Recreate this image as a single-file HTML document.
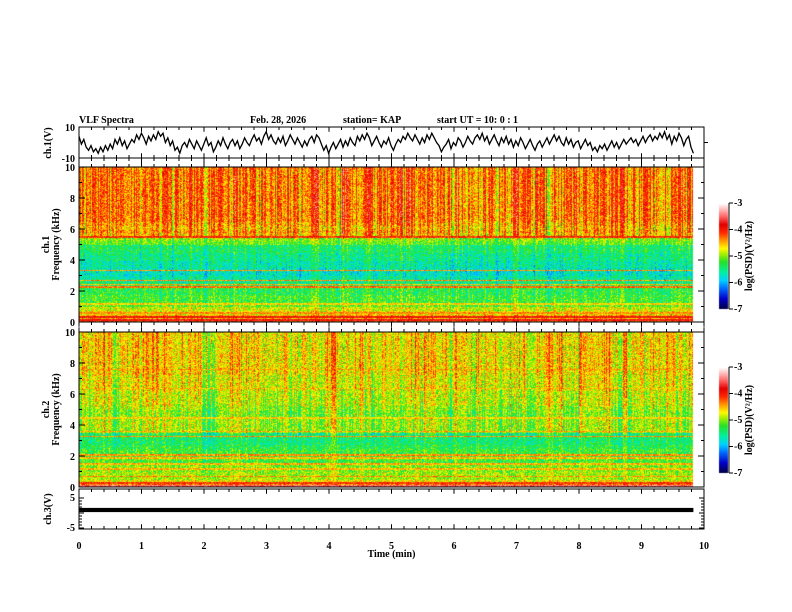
<!DOCTYPE html>
<html><head><meta charset="utf-8">
<style>
html,body{margin:0;padding:0;background:#fff;}
#wrap{position:relative;width:792px;height:612px;overflow:hidden;background:#fff;}
canvas,svg{position:absolute;left:0;top:0;}
text{font-family:"Liberation Serif",serif;font-weight:bold;font-size:10px;fill:#000;}
</style></head>
<body>
<div id="wrap">
<canvas id="cv" width="792" height="612"></canvas>
<svg id="sv" width="792" height="612" xmlns="http://www.w3.org/2000/svg"></svg>
</div>
<script>
// ---- data arrays ----
const timeTicks = [0,1,2,3,4,5,6,7,8,9,10];
const freqTicks = [0,2,4,6,8,10];
const cbarTicks = [-3,-4,-5,-6,-7];
const dataEndMin = 9.83;
// ch1 waveform (V), sampled uniformly over 0..dataEndMin
const ch1Wave = [4,-1,2,-3,-5,-2,-6,-4,-7,-3,-6,-2,-5,-1,-4,2,-1,3,-2,1,-4,-1,2,0,5,2,6,3,-1,4,1,5,2,7,4,6,0,3,-2,1,-5,-3,-7,-2,0,-3,2,-1,-4,1,-2,-5,-1,3,-2,0,-6,-3,1,-2,3,-1,-4,0,2,-2,1,-4,-1,3,0,-2,2,5,1,3,-1,4,7,2,5,1,-1,3,0,4,-2,1,5,2,-1,3,0,-3,1,-2,2,4,0,5,3,-1,-5,-2,-7,-3,0,-4,-1,2,-3,1,-2,3,0,-2,4,1,5,2,6,3,-2,1,4,0,-3,1,-1,3,-2,-5,-1,2,0,4,2,6,3,1,5,2,-1,3,0,5,2,6,3,0,-2,-6,-3,-1,2,-4,0,-2,3,1,-3,0,4,1,-1,3,5,2,6,1,4,-1,2,5,1,-2,3,0,4,-1,2,-3,1,-2,3,0,-4,-1,2,-2,-5,-1,1,-3,0,3,-1,2,5,1,4,0,-2,3,-1,2,-3,0,1,-4,-1,2,-2,0,-5,-3,-6,-2,-4,-1,-5,-2,1,-3,0,-4,-1,2,-1,1,3,0,2,-2,1,4,0,3,5,1,4,2,6,3,7,2,5,-1,4,1,6,3,-2,2,4,-3,-7];
// ch3 signal band (V)
const ch3Min = [0.3];
const ch3Max = [1.7];
// spectrogram background level per 0.25 kHz band (log PSD), 0..10 kHz
const ch1Profile = [-4.3,-4.5,-4.7,-4.8,-5.1,-5.2,-5.2,-5.3,-5.3,-5.4,-5.5,-5.6,-5.7,-5.7,-5.6,-5.6,-5.5,-5.5,-5.4,-5.4,-5.1,-5.0,-4.5,-4.4,-4.5,-4.4,-4.3,-4.3,-4.3,-4.3,-4.3,-4.3,-4.3,-4.3,-4.3,-4.3,-4.3,-4.3,-4.3,-4.3];
const ch2Profile = [-4.3,-4.7,-4.9,-4.9,-5.0,-5.0,-5.2,-5.1,-5.2,-5.2,-5.3,-5.4,-5.4,-5.4,-4.9,-4.9,-4.9,-4.9,-5.0,-5.0,-4.9,-4.8,-4.8,-4.8,-4.8,-4.7,-4.7,-4.7,-4.7,-4.6,-4.6,-4.6,-4.6,-4.6,-4.6,-4.6,-4.6,-4.6,-4.6,-4.6];
// narrow spectral lines: frequency (kHz) and level
const ch1LineF = [0.15,0.35,0.6,1.2,2.3,2.45,2.7,3.35,5.5];
const ch1LineV = [-3.8,-3.9,-4.4,-4.6,-4.3,-4.5,-4.4,-4.4,-4.1];
const ch2LineF = [0.1,0.3,0.7,1.2,1.5,1.9,2.1,3.3,3.6,4.5,6.4,7.6];
const ch2LineV = [-3.5,-4.1,-4.4,-4.5,-4.5,-4.5,-4.4,-4.4,-4.5,-4.6,-4.6,-4.5];
// temporal activity (impulsive noise) per time segment
const ch1Activity = [0.4,0.1,0.5,0.2,0.6,0.0,0.3,0.5,0.2,0.7,0.4,0.1,0.6,0.3,0.5,0.2,0.4,0.6,0.1,0.5,0.3,0.7,0.2,0.4,0.5,0.3,0.6,0.2,0.4,0.3,0.5,0.6,0.2,0.4,0.3,0.5,0.1,0.4,0.6,0.3,0.5,0.2,0.4,0.3,0.6,0.2,0.5,0.4,0.3,0.5];
const ch2Activity = [0.3,0.2,0.4,0.3,0.2,0.5,0.3,0.2,0.4,0.3,0.5,0.2,0.3,0.6,0.4,0.2,0.5,0.3,0.4,0.2,0.5,0.3,0.4,0.6,0.3,0.2,0.4,0.5,0.3,0.2,0.4,0.3,0.5,0.2,0.4,0.6,0.3,0.2,0.5,0.3,0.4,0.2,0.3,0.5,0.4,0.2,0.6,0.3,0.2,0.4];

// ---- layout ----
const X0=79, X1=704;
const xs = t => X0 + (X1-X0)*t/10;
const P1={top:127,bot:158}, S1={top:167,bot:322}, S2={top:332,bot:487}, P3={top:489,bot:529};
const y1 = v => P1.top + (10-v)/20*(P1.bot-P1.top);
const yf = (S,f) => S.bot - f/10*(S.bot-S.top);
const y3 = v => 513 - 3*v;

// ---- colormap ----
const cStops=[[-7,[0,0,60]],[-6.6,[0,0,200]],[-6.2,[0,110,255]],[-5.9,[0,210,255]],[-5.6,[0,240,160]],[-5.2,[40,225,40]],[-4.9,[170,240,0]],[-4.7,[255,250,0]],[-4.4,[255,150,0]],[-4.1,[255,40,0]],[-3.8,[225,0,0]],[-3.5,[255,100,100]],[-3.2,[255,195,195]],[-3,[255,255,255]]];
function cmap(v){
  if(v<=cStops[0][0]) return cStops[0][1];
  for(let i=1;i<cStops.length;i++){
    if(v<=cStops[i][0]){const a=cStops[i-1],b=cStops[i];const t=(v-a[0])/(b[0]-a[0]);
      return [0,1,2].map(k=>a[1][k]+(b[1][k]-a[1][k])*t);}
  }
  return cStops[cStops.length-1][1];
}
function hash(a,b,s){let h=(a*374761393+b*668265263+s*982451653)|0;h=(h^(h>>>13))*1274126177|0;h=h^(h>>>16);return ((h>>>0)%10000)/10000;}

const cv=document.getElementById('cv');const ctx=cv.getContext('2d');
function drawSpec(S,profile,lineF,lineV,act,seed,hiBoost,amp){
  const xe=Math.round(xs(dataEndMin));const w=xe-X0,h=S.bot-S.top;
  const img=ctx.createImageData(w,h);
  const colN=[];
  for(let x=0;x<w;x++){colN.push((hash(x,7,seed)-0.5)*2 + (hash(x>>2,3,seed)-0.5)*1.2);}
  for(let y=0;y<h;y++){
    const f=(S.bot-(S.top+y))/(S.bot-S.top)*10;
    const pi=Math.min(profile.length-1,Math.floor(f/0.25));
    for(let x=0;x<w;x++){
      const t=x/w*dataEndMin;const ai=Math.min(act.length-1,Math.floor(t/dataEndMin*act.length));
      let v=profile[pi];
      const hb = f>hiBoost?1:0.45;
      v += colN[x]*amp*hb*(0.5+act[ai]) ;
      v += (hash(x,y,seed+1)-0.5)*0.75;
      for(let k=0;k<lineF.length;k++){ if(Math.abs(f-lineF[k])<0.05) v = Math.max(v,lineV[k]+(hash(x,y,seed+5)-0.5)*0.5); }
      const c=cmap(v);const o=(y*w+x)*4;
      img.data[o]=c[0];img.data[o+1]=c[1];img.data[o+2]=c[2];img.data[o+3]=255;
    }
  }
  ctx.putImageData(img,X0,S.top);
}
drawSpec(S1,ch1Profile,ch1LineF,ch1LineV,ch1Activity,11,5.4,0.5);
drawSpec(S2,ch2Profile,ch2LineF,ch2LineV,ch2Activity,23,3.4,0.4);
// colorbars
function drawCbar(top,bot){
  for(let y=top;y<bot;y++){const v=-3-4*(y-top)/(bot-top);const c=cmap(v);
    ctx.fillStyle=`rgb(${c[0]|0},${c[1]|0},${c[2]|0})`;ctx.fillRect(719,y,9,1);}
}
drawCbar(203,309);drawCbar(367,473);

// ---- SVG overlay ----
const sv=document.getElementById('sv');const NS='http://www.w3.org/2000/svg';
function el(tag,attrs,parent){const e=document.createElementNS(NS,tag);for(const k in attrs)e.setAttribute(k,attrs[k]);(parent||sv).appendChild(e);return e;}
function txt(x,y,s,anchor,extra){const e=el('text',Object.assign({x:x,y:y,'text-anchor':anchor||'start'},extra||{}));e.textContent=s;return e;}

let t;
t=txt(79,123,'VLF Spectra','start',{'font-size':'12'});
t=txt(250,123,'Feb. 28, 2026','start',{'font-size':'9'});
t=txt(343,123,'station= KAP','start',{'font-size':'9'});
t=txt(437,123,'start  UT  =    10: 0  : 1','start',{'font-size':'9'});

function frame(P,name){const r=el('rect',{x:X0,y:P.top,width:X1-X0,height:P.bot-P.top,fill:'none',stroke:'#000','stroke-width':1});}
function xTicks(yTop,yBot,len){
  for(let i=0;i<=50;i++){const x=xs(i*0.2);const L=(i%5==0)?len*1.6:len;
    el('line',{x1:x,x2:x,y1:yTop,y2:yTop+L,stroke:'#000'});el('line',{x1:x,x2:x,y1:yBot,y2:yBot-L,stroke:'#000'});}
}
// ch1 panel
frame(P1,'ch1-panel');xTicks(P1.top,P1.bot,3);
let pts=ch1Wave.map((v,i)=>`${xs(i/(ch1Wave.length-1)*dataEndMin).toFixed(1)},${y1(v).toFixed(1)}`).join(' ');
let pl=el('polyline',{points:pts,fill:'none',stroke:'#000','stroke-width':1.3});

txt(75,131,'10','end');txt(75,162,'-10','end');
el('line',{x1:X1,x2:X1+4,y1:y1(0),y2:y1(0),stroke:'#000'});
t=txt(0,0,'ch.1(V)','middle',{transform:`translate(51,143) rotate(-90)`});

// spectrogram frames
function specAxes(S,label,name){
  frame(S,name);
  for(let f=0;f<=10;f++){const y=yf(S,f);const L=f%2==0?6:3;
    el('line',{x1:X0,x2:X0+L,y1:y,y2:y,stroke:'#000'});el('line',{x1:X1,x2:X1-L,y1:y,y2:y,stroke:'#000'});}
  freqTicks.forEach(f=>{txt(75,yf(S,f)+4,String(f),'end');});
  t=txt(0,0,label,'middle',{transform:`translate(49,${(S.top+S.bot)/2}) rotate(-90)`});
  t=txt(0,0,'Frequency  (kHz)','middle',{transform:`translate(59,${(S.top+S.bot)/2}) rotate(-90)`});
}
xTicks(P1.bot,S1.top,3);
specAxes(S1,'ch.1','spectrogram-ch1');
xTicks(S1.bot,S2.top,3);
specAxes(S2,'ch.2','spectrogram-ch2');

// ch3 panel
frame(P3,'ch3-panel');xTicks(P3.top,P3.bot,3);
for(let v=-5;v<=5;v++){const L=v%5==0?5:3;el('line',{x1:X0,x2:X0+L,y1:y3(v),y2:y3(v),stroke:'#000'});el('line',{x1:X1,x2:X1-L,y1:y3(v),y2:y3(v),stroke:'#000'});}
let b=el('rect',{x:X0,y:y3(ch3Max[0]),width:xs(dataEndMin)-X0,height:y3(ch3Min[0])-y3(ch3Max[0]),fill:'#000'});

txt(75,501,'5','end');txt(75,531,'-5','end');
t=txt(0,0,'ch.3(V)','middle',{transform:`translate(51,509) rotate(-90)`});
timeTicks.forEach(v=>{const e=txt(xs(v),549,String(v),'middle');});
t=txt(xs(5),557,'Time  (min)','middle');

// colorbar axes
function cbarAxes(top,bot,name){
  const r=el('rect',{x:719,y:top,width:9,height:bot-top,fill:'none',stroke:'none'});
  
  el('line',{x1:729,x2:729,y1:top,y2:bot,stroke:'#000'});
  cbarTicks.forEach(v=>{const y=top+(-3-v)/4*(bot-top);el('line',{x1:729,x2:733,y1:y,y2:y,stroke:'#000'});txt(734,y+3,String(v),'start',{'font-size':'8'});});
  t=txt(0,0,'log(PSD)(V\u00B2/Hz)','middle',{transform:`translate(752,${(top+bot)/2}) rotate(-90)`,'font-size':'7'});
  
}
cbarAxes(203,309,'colorbar-ch1');cbarAxes(367,473,'colorbar-ch2');
</script>
</body></html>
